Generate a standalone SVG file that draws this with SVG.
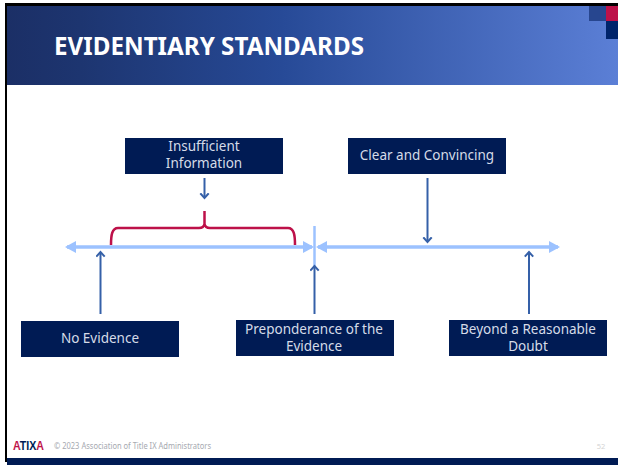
<svg xmlns="http://www.w3.org/2000/svg" width="618" height="465" viewBox="0 0 618 465">
<defs>
<linearGradient id="hdr" x1="0" y1="0" x2="1" y2="0">
<stop offset="0" stop-color="#1b2f66"/><stop offset="0.12" stop-color="#1d3570"/><stop offset="0.45" stop-color="#274a97"/><stop offset="1" stop-color="#5b7fd6"/>
</linearGradient>
<linearGradient id="logo" gradientUnits="userSpaceOnUse" x1="13" y1="0" x2="44" y2="0">
<stop offset="0.24" stop-color="#bd1149"/><stop offset="0.24" stop-color="#001b54"/><stop offset="0.76" stop-color="#001b54"/><stop offset="0.76" stop-color="#bd1149"/>
</linearGradient>
<marker id="dk" markerUnits="userSpaceOnUse" markerWidth="12" markerHeight="12" refX="5.5" refY="5" orient="auto"><path d="M0.8 0.8 L5.500 5 L0.8 9.200" fill="none" stroke="#3560a8" stroke-width="2"/></marker>
<marker id="lt" markerUnits="userSpaceOnUse" markerWidth="12" markerHeight="14" refX="9" refY="6" orient="auto-start-reverse"><path d="M0 0 L11 6 L0 12 Z" fill="#9cc2ff"/></marker>
</defs>
<style>
.box{fill:#001b54}
.lbl{font-family:"Noto Sans","Open Sans",sans-serif;font-size:13.5px;fill:#d5dbe8;text-anchor:middle}
.dk{stroke:#3560a8;stroke-width:2;fill:none;marker-end:url(#dk)}
.lt{stroke:#9cc2ff;stroke-width:3.4;fill:none;marker-start:url(#lt);marker-end:url(#lt)}
</style>
<rect width="618" height="465" fill="#fff"/>
<rect x="5" y="3" width="613" height="3" fill="#000"/>
<rect x="5" y="3" width="2" height="459" fill="#000"/>
<rect id="header" x="7" y="6" width="611" height="79" fill="url(#hdr)"/>
<rect x="589" y="6" width="17" height="15" fill="#27468f"/>
<rect x="606" y="6" width="12" height="15" fill="#bd1149"/>
<rect x="606" y="21" width="12" height="18" fill="#00246b"/>
<text id="title" x="54" y="55" font-family="'Noto Sans','Open Sans',sans-serif" font-weight="700" font-size="25px" fill="#fff" textLength="310" lengthAdjust="spacingAndGlyphs">EVIDENTIARY STANDARDS</text>
<g id="connectors">
<line class="lt" x1="67" y1="247" x2="312" y2="247"/>
<line class="lt" x1="318" y1="247" x2="558" y2="247"/>
<line x1="314.500" y1="226" x2="314.500" y2="267" stroke="#9cc2ff" stroke-width="2.500"/>
<path d="M111 245 C111 235 112 228 118 228 L199 228 C202 228 204 227 204.500 224 C205 227 207 228 210 228 L288 228 C294 228 295 235 295 245 M204.500 224 V211" fill="none" stroke="#bd1149" stroke-width="2.500"/>
<line class="dk" x1="204.500" y1="178" x2="204.500" y2="198"/>
<line class="dk" x1="427.500" y1="178" x2="427.500" y2="242"/>
<line class="dk" x1="100.500" y1="314" x2="100.500" y2="252"/>
<line class="dk" x1="314.500" y1="314" x2="314.500" y2="266"/>
<line class="dk" x1="529" y1="314" x2="529" y2="252"/>
</g>
<g id="node-insufficient"><rect class="box" x="125" y="138" width="158" height="36"/><text class="lbl" x="204" y="151">Insufficient</text><text class="lbl" x="204" y="168">Information</text></g>
<g id="node-clear"><rect class="box" x="348" y="138" width="158" height="36"/><text class="lbl" x="427" y="160">Clear and Convincing</text></g>
<g id="node-none"><rect class="box" x="21" y="321" width="158" height="36"/><text class="lbl" x="100" y="343">No Evidence</text></g>
<g id="node-preponderance"><rect class="box" x="236" y="320" width="158" height="36"/><text class="lbl" x="314" y="334">Preponderance of the</text><text class="lbl" x="314" y="351">Evidence</text></g>
<g id="node-beyond"><rect class="box" x="449" y="320" width="158" height="36"/><text class="lbl" x="528" y="334">Beyond a Reasonable</text><text class="lbl" x="528" y="351">Doubt</text></g>
<g id="footer">
<rect x="7" y="458" width="611" height="7" fill="#001b54"/>
<text x="13" y="450" font-family="'Liberation Sans',sans-serif" font-weight="700" font-size="12px" fill="url(#logo)" textLength="31" lengthAdjust="spacingAndGlyphs">ATIXA</text>
<text x="54" y="449" font-family="'Noto Sans',sans-serif" font-size="8px" fill="#a6a9b0" textLength="157" lengthAdjust="spacingAndGlyphs">© 2023 Association of Title IX Administrators</text>
<text x="601" y="449" text-anchor="middle" font-family="'Noto Sans',sans-serif" font-size="7.500px" fill="#d4d4d4">52</text>
</g>
</svg>
